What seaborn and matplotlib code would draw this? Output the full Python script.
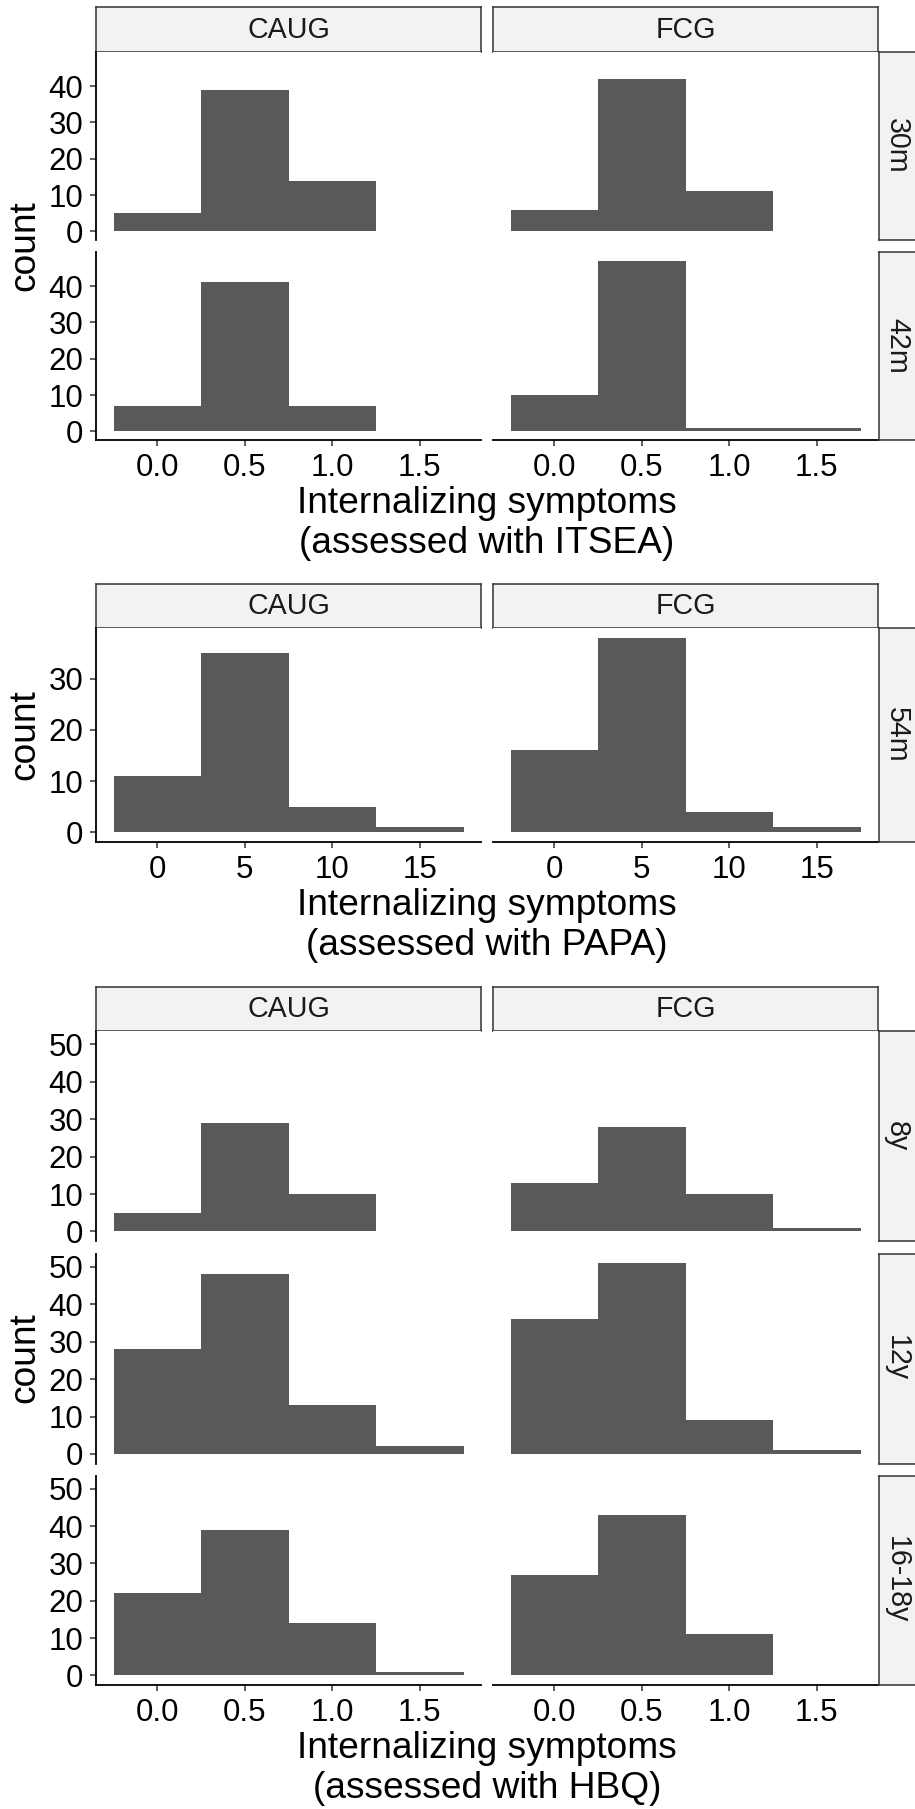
import matplotlib
matplotlib.use("Agg")
import matplotlib.pyplot as plt
import seaborn as sns
import numpy as np

# ---------------- data ----------------
groups = ["CAUG", "FCG"]

itsea_rows = ["30m", "42m"]
itsea_centers = [0.0, 0.5, 1.0, 1.5]
itsea_binwidth = 0.5
itsea_caug_30m = [5, 39, 14, 0]
itsea_fcg_30m = [6, 42, 11, 0]
itsea_caug_42m = [7, 41, 7, 0]
itsea_fcg_42m = [10, 47, 1, 1]
itsea_xticks = [0.0, 0.5, 1.0, 1.5]
itsea_xticklabels = ["0.0", "0.5", "1.0", "1.5"]
itsea_yticks = [0, 10, 20, 30, 40]
itsea_xlabel = ["Internalizing symptoms", "(assessed with ITSEA)"]

papa_rows = ["54m"]
papa_centers = [0, 5, 10, 15]
papa_binwidth = 5
papa_caug_54m = [11, 35, 5, 1]
papa_fcg_54m = [16, 38, 4, 1]
papa_xticks = [0, 5, 10, 15]
papa_xticklabels = ["0", "5", "10", "15"]
papa_yticks = [0, 10, 20, 30]
papa_xlabel = ["Internalizing symptoms", "(assessed with PAPA)"]

hbq_rows = ["8y", "12y", "16-18y"]
hbq_centers = [0.0, 0.5, 1.0, 1.5]
hbq_binwidth = 0.5
hbq_caug_8y = [5, 29, 10, 0]
hbq_fcg_8y = [13, 28, 10, 1]
hbq_caug_12y = [28, 48, 13, 2]
hbq_fcg_12y = [36, 51, 9, 1]
hbq_caug_1618y = [22, 39, 14, 1]
hbq_fcg_1618y = [27, 43, 11, 0]
hbq_xticks = [0.0, 0.5, 1.0, 1.5]
hbq_xticklabels = ["0.0", "0.5", "1.0", "1.5"]
hbq_yticks = [0, 10, 20, 30, 40, 50]
hbq_xlabel = ["Internalizing symptoms", "(assessed with HBQ)"]

# ---------------- style ----------------
sns.set_theme(style="white")
plt.rcParams["font.family"] = ["Liberation Sans", "DejaVu Sans"]

W, H = 915, 1809
fig = plt.figure(figsize=(W / 100, H / 100), dpi=100)

BAR = "#595959"
STRIP_FILL = "#F2F2F2"
STRIP_EDGE = "#333333"
TICK_FS = 22.5
TITLE_FS = 26.7
STRIP_FS = 20.6

col_x = [(96, 481), (493, 878)]
rstrip_x = (879, 925)


def rect(x0, x1, y0, y1):
    return [x0 / W, 1 - y1 / H, (x1 - x0) / W, (y1 - y0) / H]


def strip(x0, x1, y0, y1, label, rot=0):
    a = fig.add_axes(rect(x0, x1, y0, y1))
    a.set_facecolor(STRIP_FILL)
    a.set_xticks([])
    a.set_yticks([])
    for s in a.spines.values():
        s.set_visible(True)
        s.set_color(STRIP_EDGE)
        s.set_linewidth(1.1)
    if rot == 0:
        a.text(0.5, 0.5, label, ha="center", va="center", fontsize=STRIP_FS,
               color="#1A1A1A", transform=a.transAxes)
    else:
        a.text(18 / (x1 - x0), 0.5, label, ha="center", va="center", fontsize=STRIP_FS,
               color="#1A1A1A", rotation=-90, transform=a.transAxes)
    return a


def block(rows, row_y, strip_y, centers, binwidth, counts, xticks, xticklabels,
          yticks, xlabel):
    edges_lo = min(centers) - binwidth / 2
    edges_hi = max(centers) + binwidth / 2
    span = edges_hi - edges_lo
    xlim = (edges_lo - 0.05 * span, edges_hi + 0.05 * span)
    ymax = max(max(c) for r in counts for c in r)
    ylim = (-0.05 * ymax, 1.05 * ymax)

    for j, g in enumerate(groups):
        strip(col_x[j][0], col_x[j][1], strip_y[0], strip_y[1], g)

    nrows = len(rows)
    for i, rname in enumerate(rows):
        y0, y1 = row_y[i]
        for j, g in enumerate(groups):
            ax = fig.add_axes(rect(col_x[j][0], col_x[j][1], y0, y1))
            sns.histplot(x=centers, weights=counts[i][j], binwidth=binwidth,
                         binrange=(edges_lo, edges_hi), color=BAR, alpha=1,
                         linewidth=0, edgecolor=None, ax=ax)
            ax.set_xlim(*xlim)
            ax.set_ylim(*ylim)
            ax.set_xlabel("")
            ax.set_ylabel("")
            ax.set_facecolor("white")
            for s in ["top", "right"]:
                ax.spines[s].set_visible(False)
            ax.spines["left"].set_visible(j == 0)
            ax.spines["bottom"].set_visible(i == nrows - 1)
            for s in ["left", "bottom"]:
                ax.spines[s].set_color("black")
                ax.spines[s].set_linewidth(1.3)
            ax.tick_params(axis="both", which="both", direction="out", length=4,
                           width=1.1, color="#333333", labelsize=TICK_FS,
                           labelcolor="black", pad=5.3)
            if j == 0:
                ax.set_yticks(yticks)
                ax.set_yticklabels([str(t) for t in yticks])
                ax.tick_params(axis="y", left=True)
            else:
                ax.set_yticks([])
            if i == nrows - 1:
                ax.set_xticks(xticks)
                ax.set_xticklabels(xticklabels)
                ax.tick_params(axis="x", bottom=True)
            else:
                ax.set_xticks([])
        strip(rstrip_x[0], rstrip_x[1], y0, y1, rname, rot=-90)

    # axis titles
    top = row_y[0][0]
    bottom = row_y[-1][1]
    fig.text(25 / W, 1 - ((top + bottom) / 2) / H, "count", rotation=90,
             ha="center", va="center", fontsize=TITLE_FS, color="black")
    xc = (col_x[0][0] + col_x[1][1]) / 2
    fig.text(xc / W, 1 - (bottom + 73) / H, xlabel[0], ha="center",
             va="baseline", fontsize=TITLE_FS, color="black")
    fig.text(xc / W, 1 - (bottom + 113) / H, xlabel[1], ha="center",
             va="baseline", fontsize=TITLE_FS, color="black")


block(itsea_rows, [(52, 240), (252, 440)], (7.5, 52), itsea_centers, itsea_binwidth,
      [[itsea_caug_30m, itsea_fcg_30m], [itsea_caug_42m, itsea_fcg_42m]],
      itsea_xticks, itsea_xticklabels, itsea_yticks, itsea_xlabel)

block(papa_rows, [(628, 842)], (583.5, 628), papa_centers, papa_binwidth,
      [[papa_caug_54m, papa_fcg_54m]],
      papa_xticks, papa_xticklabels, papa_yticks, papa_xlabel)

block(hbq_rows, [(1031, 1241), (1253.5, 1463.5), (1475.5, 1685)], (986.7, 1031),
      hbq_centers, hbq_binwidth,
      [[hbq_caug_8y, hbq_fcg_8y], [hbq_caug_12y, hbq_fcg_12y],
       [hbq_caug_1618y, hbq_fcg_1618y]],
      hbq_xticks, hbq_xticklabels, hbq_yticks, hbq_xlabel)

fig.savefig("out.png", dpi=100, facecolor="white")
